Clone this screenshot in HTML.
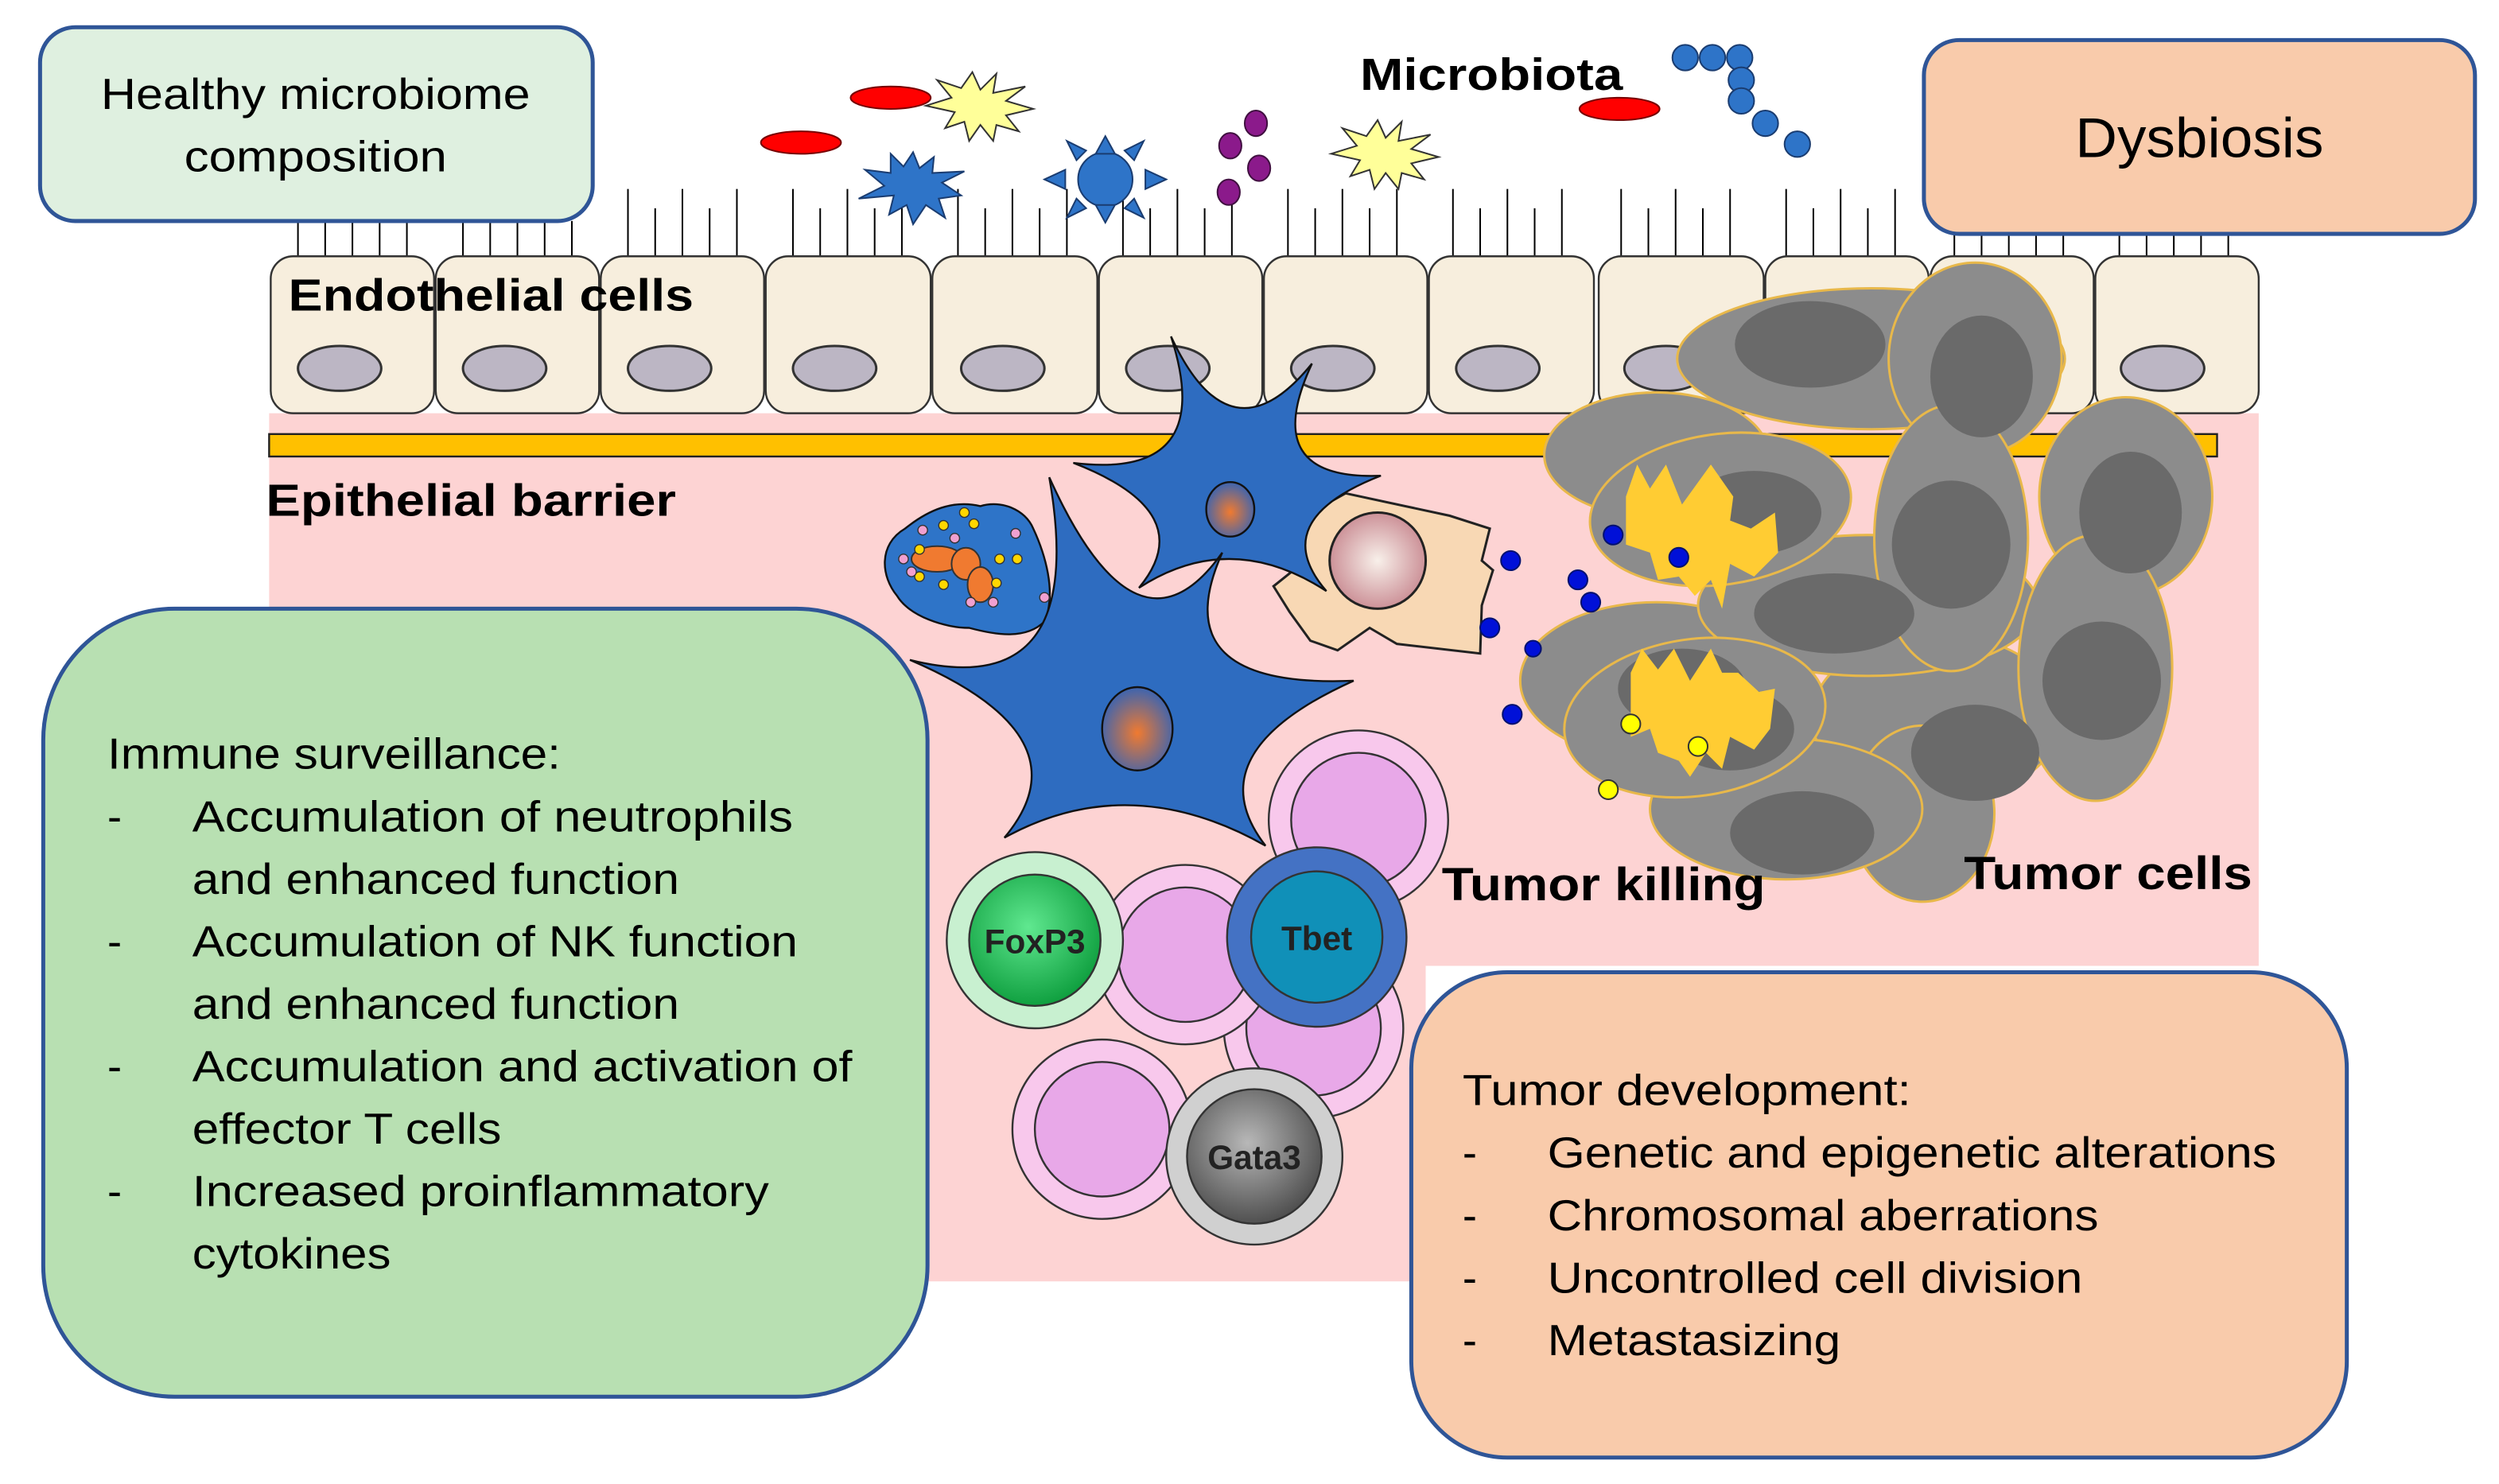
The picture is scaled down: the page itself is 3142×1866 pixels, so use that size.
<!DOCTYPE html>
<html><head><meta charset="utf-8"><style>
html,body{margin:0;padding:0;background:#fff;}
svg{display:block;}
text{font-family:"Liberation Sans",sans-serif;}
</style></head><body>
<svg width="3142" height="1866" viewBox="0 0 1560 926.5" preserveAspectRatio="none" xmlns="http://www.w3.org/2000/svg">
<defs>
<radialGradient id="nuc" cx="50%" cy="55%" r="55%"><stop offset="0" stop-color="#f07a30"/><stop offset="1" stop-color="#3c64b0"/></radialGradient>
<radialGradient id="pk" cx="50%" cy="50%" r="55%"><stop offset="0" stop-color="#f8f0ea"/><stop offset="1" stop-color="#c88890"/></radialGradient>
<radialGradient id="gr" cx="45%" cy="40%" r="60%"><stop offset="0" stop-color="#60e890"/><stop offset="1" stop-color="#10a040"/></radialGradient>
<radialGradient id="gy" cx="45%" cy="40%" r="60%"><stop offset="0" stop-color="#b8b8b8"/><stop offset="1" stop-color="#505050"/></radialGradient>
</defs>
<!-- pink tissue -->
<rect x="168" y="258" width="1242" height="345" fill="#fdd3d3"/>
<rect x="560" y="600" width="330" height="200" fill="#fdd3d3"/>
<!-- microvilli -->
<g stroke="#000" stroke-width="1">
<path d="M186 138V160M203 138V160M220 138V160M237 138V160M254 138V160
M289 138V160M306 138V160M323 138V160M340 138V160M357 138V160
M392 118V160M409 130V160M426 118V160M443 130V160M460 118V160
M495 118V160M512 130V160M529 118V160M546 130V160M563 118V160
M598 118V160M615 130V160M632 118V160M649 130V160M666 118V160
M701 118V160M718 130V160M735 118V160M752 130V160M769 118V160
M804 118V160M821 130V160M838 118V160M855 130V160M872 118V160
M907 118V160M924 130V160M941 118V160M958 130V160M975 118V160
M1012 118V160M1029 130V160M1046 118V160M1063 130V160M1080 118V160
M1115 118V160M1132 130V160M1149 118V160M1166 130V160M1183 118V160
M1220 145V160M1237 145V160M1254 145V160M1271 145V160M1288 145V160
M1323 145V160M1340 145V160M1357 145V160M1374 145V160M1391 145V160"/>
</g>
<!-- cells -->
<g fill="#f7eedd" stroke="#333" stroke-width="1.2">
<rect x="169" y="160" width="102" height="98" rx="14"/>
<rect x="272" y="160" width="102" height="98" rx="14"/>
<rect x="375" y="160" width="102" height="98" rx="14"/>
<rect x="478" y="160" width="103" height="98" rx="14"/>
<rect x="582" y="160" width="103" height="98" rx="14"/>
<rect x="686" y="160" width="102" height="98" rx="14"/>
<rect x="789" y="160" width="102" height="98" rx="14"/>
<rect x="892" y="160" width="103" height="98" rx="14"/>
<rect x="998" y="160" width="103" height="98" rx="14"/>
<rect x="1102" y="160" width="102" height="98" rx="14"/>
<rect x="1205" y="160" width="102" height="98" rx="14"/>
<rect x="1308" y="160" width="102" height="98" rx="14"/>
</g>
<g fill="#bcb6c4" stroke="#333" stroke-width="1.5">
<ellipse cx="212" cy="230" rx="26" ry="14"/><ellipse cx="315" cy="230" rx="26" ry="14"/>
<ellipse cx="418" cy="230" rx="26" ry="14"/><ellipse cx="521" cy="230" rx="26" ry="14"/>
<ellipse cx="626" cy="230" rx="26" ry="14"/><ellipse cx="729" cy="230" rx="26" ry="14"/>
<ellipse cx="832" cy="230" rx="26" ry="14"/><ellipse cx="935" cy="230" rx="26" ry="14"/>
<ellipse cx="1040" cy="230" rx="26" ry="14"/><ellipse cx="1350" cy="230" rx="26" ry="14"/>
</g>
<!-- barrier -->
<rect x="168" y="271" width="1216" height="14" fill="#ffc000" stroke="#222" stroke-width="1.2"/>
<text x="180" y="194" font-size="28" font-weight="bold" textLength="253" lengthAdjust="spacingAndGlyphs">Endothelial cells</text>
<text x="166" y="322" font-size="28" font-weight="bold" textLength="256" lengthAdjust="spacingAndGlyphs">Epithelial barrier</text>
<text x="849" y="56" font-size="28" font-weight="bold" textLength="164" lengthAdjust="spacingAndGlyphs">Microbiota</text>
<!-- microbes -->
<g stroke="#700" stroke-width="1"><ellipse cx="556" cy="61" rx="25" ry="7" fill="#f00"/><ellipse cx="500" cy="89" rx="25" ry="7" fill="#f00"/><ellipse cx="1011" cy="68" rx="25" ry="7" fill="#f00"/></g>
<polygon points="607,45 612,56 622,46 620,58 640,54 628,63 645,68 628,72 636,82 622,78 620,88 612,78 605,88 602,76 590,80 596,70 578,66 594,61 585,50 600,55" fill="#ffff99" stroke="#333" stroke-width="1"/>
<polygon points="860,75 865,86 875,76 873,88 893,84 881,93 898,98 881,102 889,112 875,108 873,118 865,108 858,118 855,106 843,110 849,100 831,96 847,91 838,80 853,85" fill="#ffff99" stroke="#333" stroke-width="1"/>
<polygon points="570,95 574,105 583,98 582,108 602,107 588,114 600,122 586,124 590,136 578,128 570,140 566,128 555,134 558,122 536,124 552,116 540,106 556,108 556,96 564,104" fill="#2e74c8" stroke="#1a3c70" stroke-width="1"/>
<g fill="#2e74c8" stroke="#1a3c70" stroke-width="1"><circle cx="690" cy="112" r="17"/>
<polygon points="690,85 684,96 696,96"/><polygon points="690,139 684,128 696,128"/><polygon points="652,112 665,106 665,118"/><polygon points="728,112 715,106 715,118"/>
<polygon points="666,88 672,100 678,94"/><polygon points="714,88 708,100 702,94"/><polygon points="666,136 672,124 678,130"/><polygon points="714,136 708,124 702,130"/></g>
<g fill="#8b1a8b" stroke="#401040" stroke-width="1"><ellipse cx="784" cy="77" rx="7" ry="8"/><ellipse cx="768" cy="91" rx="7" ry="8"/><ellipse cx="786" cy="105" rx="7" ry="8"/><ellipse cx="767" cy="120" rx="7" ry="8"/></g>
<g fill="#2e74c8" stroke="#1a3c70" stroke-width="1"><ellipse cx="1052" cy="36" rx="8" ry="8"/><ellipse cx="1069" cy="36" rx="8" ry="8"/><ellipse cx="1086" cy="36" rx="8" ry="8"/><ellipse cx="1087" cy="50" rx="8" ry="8"/><ellipse cx="1087" cy="63" rx="8" ry="8"/><ellipse cx="1102" cy="77" rx="8" ry="8"/><ellipse cx="1122" cy="90" rx="8" ry="8"/></g>
<!-- neutrophil -->
<path d="M565,330 C580,318 595,312 612,316 C625,312 640,318 645,330 C652,345 660,370 652,388 C640,400 620,396 605,392 C590,392 568,385 560,372 C550,360 548,340 565,330Z" fill="#2e74c8" stroke="#111" stroke-width="1.2"/>
<g stroke="#333" stroke-width="1" fill="#f07a30"><ellipse cx="585" cy="349" rx="16" ry="8"/><ellipse cx="603" cy="352" rx="9" ry="10"/><ellipse cx="612" cy="365" rx="8" ry="11"/></g>
<g stroke="#333" stroke-width=".7" fill="#ffd700"><circle cx="574" cy="343" r="3"/><circle cx="589" cy="328" r="3"/><circle cx="602" cy="320" r="3"/><circle cx="608" cy="327" r="3"/><circle cx="574" cy="360" r="3"/><circle cx="589" cy="365" r="3"/><circle cx="624" cy="349" r="3"/><circle cx="635" cy="349" r="3"/><circle cx="622" cy="364" r="3"/></g>
<g stroke="#333" stroke-width=".7" fill="#f0a0d0"><circle cx="564" cy="349" r="3"/><circle cx="576" cy="331" r="3"/><circle cx="596" cy="336" r="3"/><circle cx="634" cy="333" r="3"/><circle cx="569" cy="357" r="3"/><circle cx="606" cy="376" r="3"/><circle cx="620" cy="376" r="3"/><circle cx="652" cy="373" r="3"/></g>
<!-- macrophage -->
<path d="M813,323 L840,308 L905,322 L930,330 L925,350 L932,356 L925,378 L924,408 L872,402 L855,392 L835,406 L818,400 L805,382 L795,366 L815,350 Z" fill="#f8d8b4" stroke="#222" stroke-width="1.5"/>
<circle cx="860" cy="350" r="30" fill="url(#pk)" stroke="#222" stroke-width="1.5"/>
<!-- small DC -->
<path d="M731,210 Q768,290 819,227 Q785,300 862,297 Q790,325 828,369 Q768,330 711,367 Q750,320 670,289 Q760,300 731,210Z" fill="#2e6cc0" stroke="#111" stroke-width="1.2"/>
<ellipse cx="768" cy="318" rx="15" ry="17" fill="url(#nuc)" stroke="#111" stroke-width="1.2"/>
<!-- big DC -->
<path d="M655,298 Q710,420 763,345 Q725,430 845,425 Q745,470 790,528 Q705,480 627,523 Q680,460 568,412 Q680,440 655,298Z" fill="#2e6cc0" stroke="#111" stroke-width="1.2"/>
<ellipse cx="710" cy="455" rx="22" ry="26" fill="url(#nuc)" stroke="#111" stroke-width="1.2"/>
<!-- T cells -->
<g stroke="#333" stroke-width="1.2">
<circle cx="848" cy="512" r="56" fill="#f8c8ec"/><circle cx="848" cy="512" r="42" fill="#e8a8e8"/>
<circle cx="820" cy="642" r="56" fill="#f8c8ec"/><circle cx="820" cy="642" r="42" fill="#e8a8e8"/>
<circle cx="740" cy="596" r="56" fill="#f8c8ec"/><circle cx="740" cy="596" r="42" fill="#e8a8e8"/>
<circle cx="646" cy="587" r="55" fill="#c8f0d0"/><circle cx="646" cy="587" r="41" fill="url(#gr)"/>
<circle cx="822" cy="585" r="56" fill="#4472c4"/><circle cx="822" cy="585" r="41" fill="#1090b8"/>
<circle cx="688" cy="705" r="56" fill="#f8c8ec"/><circle cx="688" cy="705" r="42" fill="#e8a8e8"/>
<circle cx="783" cy="722" r="55" fill="#d0d0d0"/><circle cx="783" cy="722" r="42" fill="url(#gy)"/>
</g>
<text x="646" y="595" font-size="21" font-weight="bold" text-anchor="middle" fill="#222">FoxP3</text>
<text x="822" y="593" font-size="21" font-weight="bold" text-anchor="middle" fill="#222">Tbet</text>
<text x="783" y="730" font-size="21" font-weight="bold" text-anchor="middle" fill="#222">Gata3</text>
<!-- tumor cells -->
<g stroke="#e8b84a" stroke-width="1.5" fill="#8c8c8c">
<ellipse cx="1209" cy="448" rx="78" ry="52"/><ellipse cx="1200" cy="508" rx="45" ry="55"/>
<ellipse cx="1115" cy="505" rx="85" ry="44"/><ellipse cx="1034" cy="425" rx="85" ry="49"/>
<ellipse cx="1166" cy="378" rx="106" ry="44"/><ellipse cx="1034" cy="284" rx="70" ry="39"/>
<ellipse cx="1168" cy="224" rx="121" ry="44"/><ellipse cx="1233" cy="224" rx="54" ry="60"/>
<ellipse cx="1327" cy="310" rx="54" ry="62"/><ellipse cx="1308" cy="417" rx="48" ry="83"/>
<ellipse cx="1218" cy="336" rx="48" ry="83"/>
<ellipse cx="1058" cy="448" rx="82" ry="49" transform="rotate(-8 1058 448)"/>
<ellipse cx="1074" cy="318" rx="82" ry="47" transform="rotate(-8 1074 318)"/>
</g>
<g fill="#6a6a6a">
<ellipse cx="1233" cy="470" rx="40" ry="30"/><ellipse cx="1125" cy="520" rx="45" ry="26"/>
<ellipse cx="1050" cy="430" rx="40" ry="25"/><ellipse cx="1145" cy="383" rx="50" ry="25"/>
<ellipse cx="1130" cy="215" rx="47" ry="27"/><ellipse cx="1237" cy="235" rx="32" ry="38"/>
<ellipse cx="1330" cy="320" rx="32" ry="38"/><ellipse cx="1312" cy="425" rx="37" ry="37"/>
<ellipse cx="1218" cy="340" rx="37" ry="40"/>
<ellipse cx="1080" cy="455" rx="40" ry="26"/><ellipse cx="1095" cy="320" rx="42" ry="26"/>
</g>
<path d="M1015,310 L1022,290 L1030,305 L1040,290 L1050,315 L1068,290 L1075,300 L1082,310 L1080,325 L1093,330 L1108,320 L1110,345 L1095,360 L1080,352 L1075,380 L1068,362 L1058,372 L1048,360 L1035,362 L1030,345 L1015,340 Z" fill="#ffcc33"/>
<path d="M1018,420 L1025,405 L1035,418 L1045,405 L1055,425 L1068,405 L1075,420 L1085,420 L1098,432 L1108,430 L1105,455 L1095,468 L1080,460 L1075,480 L1065,470 L1055,485 L1048,475 L1035,470 L1030,455 L1018,460 Z" fill="#ffcc33"/>
<g fill="#0010d8" stroke="#001070" stroke-width="1"><circle cx="943" cy="350" r="6"/><circle cx="930" cy="392" r="6"/><circle cx="985" cy="362" r="6"/><circle cx="993" cy="376" r="6"/><circle cx="944" cy="446" r="6"/><circle cx="1007" cy="334" r="6"/><circle cx="1048" cy="348" r="6"/><circle cx="957" cy="405" r="5"/></g>
<g fill="#ffff00" stroke="#333" stroke-width="1"><circle cx="1018" cy="452" r="6"/><circle cx="1060" cy="466" r="6"/><circle cx="1004" cy="493" r="6"/></g>
<text x="900" y="562" font-size="29" font-weight="bold" textLength="202" lengthAdjust="spacingAndGlyphs">Tumor killing</text>
<text x="1226" y="555" font-size="29" font-weight="bold" textLength="180" lengthAdjust="spacingAndGlyphs">Tumor cells</text>
<!-- boxes -->
<rect x="25" y="17" width="345" height="121" rx="22" fill="#dff0e0" stroke="#2f5597" stroke-width="2.5"/>
<text x="197" y="68" font-size="27" text-anchor="middle" textLength="268" lengthAdjust="spacingAndGlyphs">Healthy microbiome</text>
<text x="197" y="107" font-size="27" text-anchor="middle" textLength="164" lengthAdjust="spacingAndGlyphs">composition</text>
<rect x="1201" y="25" width="344" height="121" rx="22" fill="#f9cbab" stroke="#2f5597" stroke-width="2.5"/>
<text x="1373" y="98" font-size="35" text-anchor="middle" textLength="155" lengthAdjust="spacingAndGlyphs">Dysbiosis</text>
<rect x="27" y="380" width="552" height="492" rx="82" fill="#b8e0b2" stroke="#2f5597" stroke-width="2.5"/>
<g font-size="27">
<text x="67" y="480" textLength="283" lengthAdjust="spacingAndGlyphs">Immune surveillance:</text>
<text x="67" y="519">-</text><text x="120" y="519" textLength="375" lengthAdjust="spacingAndGlyphs">Accumulation of neutrophils</text>
<text x="120" y="558" textLength="304" lengthAdjust="spacingAndGlyphs">and enhanced function</text>
<text x="67" y="597">-</text><text x="120" y="597" textLength="378" lengthAdjust="spacingAndGlyphs">Accumulation of NK function</text>
<text x="120" y="636" textLength="304" lengthAdjust="spacingAndGlyphs">and enhanced function</text>
<text x="67" y="675">-</text><text x="120" y="675" textLength="412" lengthAdjust="spacingAndGlyphs">Accumulation and activation of</text>
<text x="120" y="714" textLength="193" lengthAdjust="spacingAndGlyphs">effector T cells</text>
<text x="67" y="753">-</text><text x="120" y="753" textLength="360" lengthAdjust="spacingAndGlyphs">Increased proinflammatory</text>
<text x="120" y="792" textLength="124" lengthAdjust="spacingAndGlyphs">cytokines</text>
</g>
<rect x="881" y="607" width="584" height="303" rx="60" fill="#f9cbab" stroke="#2f5597" stroke-width="2.5"/>
<g font-size="27">
<text x="913" y="690" textLength="280" lengthAdjust="spacingAndGlyphs">Tumor development:</text>
<text x="913" y="729">-</text><text x="966" y="729" textLength="455" lengthAdjust="spacingAndGlyphs">Genetic and epigenetic alterations</text>
<text x="913" y="768">-</text><text x="966" y="768" textLength="344" lengthAdjust="spacingAndGlyphs">Chromosomal aberrations</text>
<text x="913" y="807">-</text><text x="966" y="807" textLength="334" lengthAdjust="spacingAndGlyphs">Uncontrolled cell division</text>
<text x="913" y="846">-</text><text x="966" y="846" textLength="183" lengthAdjust="spacingAndGlyphs">Metastasizing</text>
</g>
</svg>
</body></html>
